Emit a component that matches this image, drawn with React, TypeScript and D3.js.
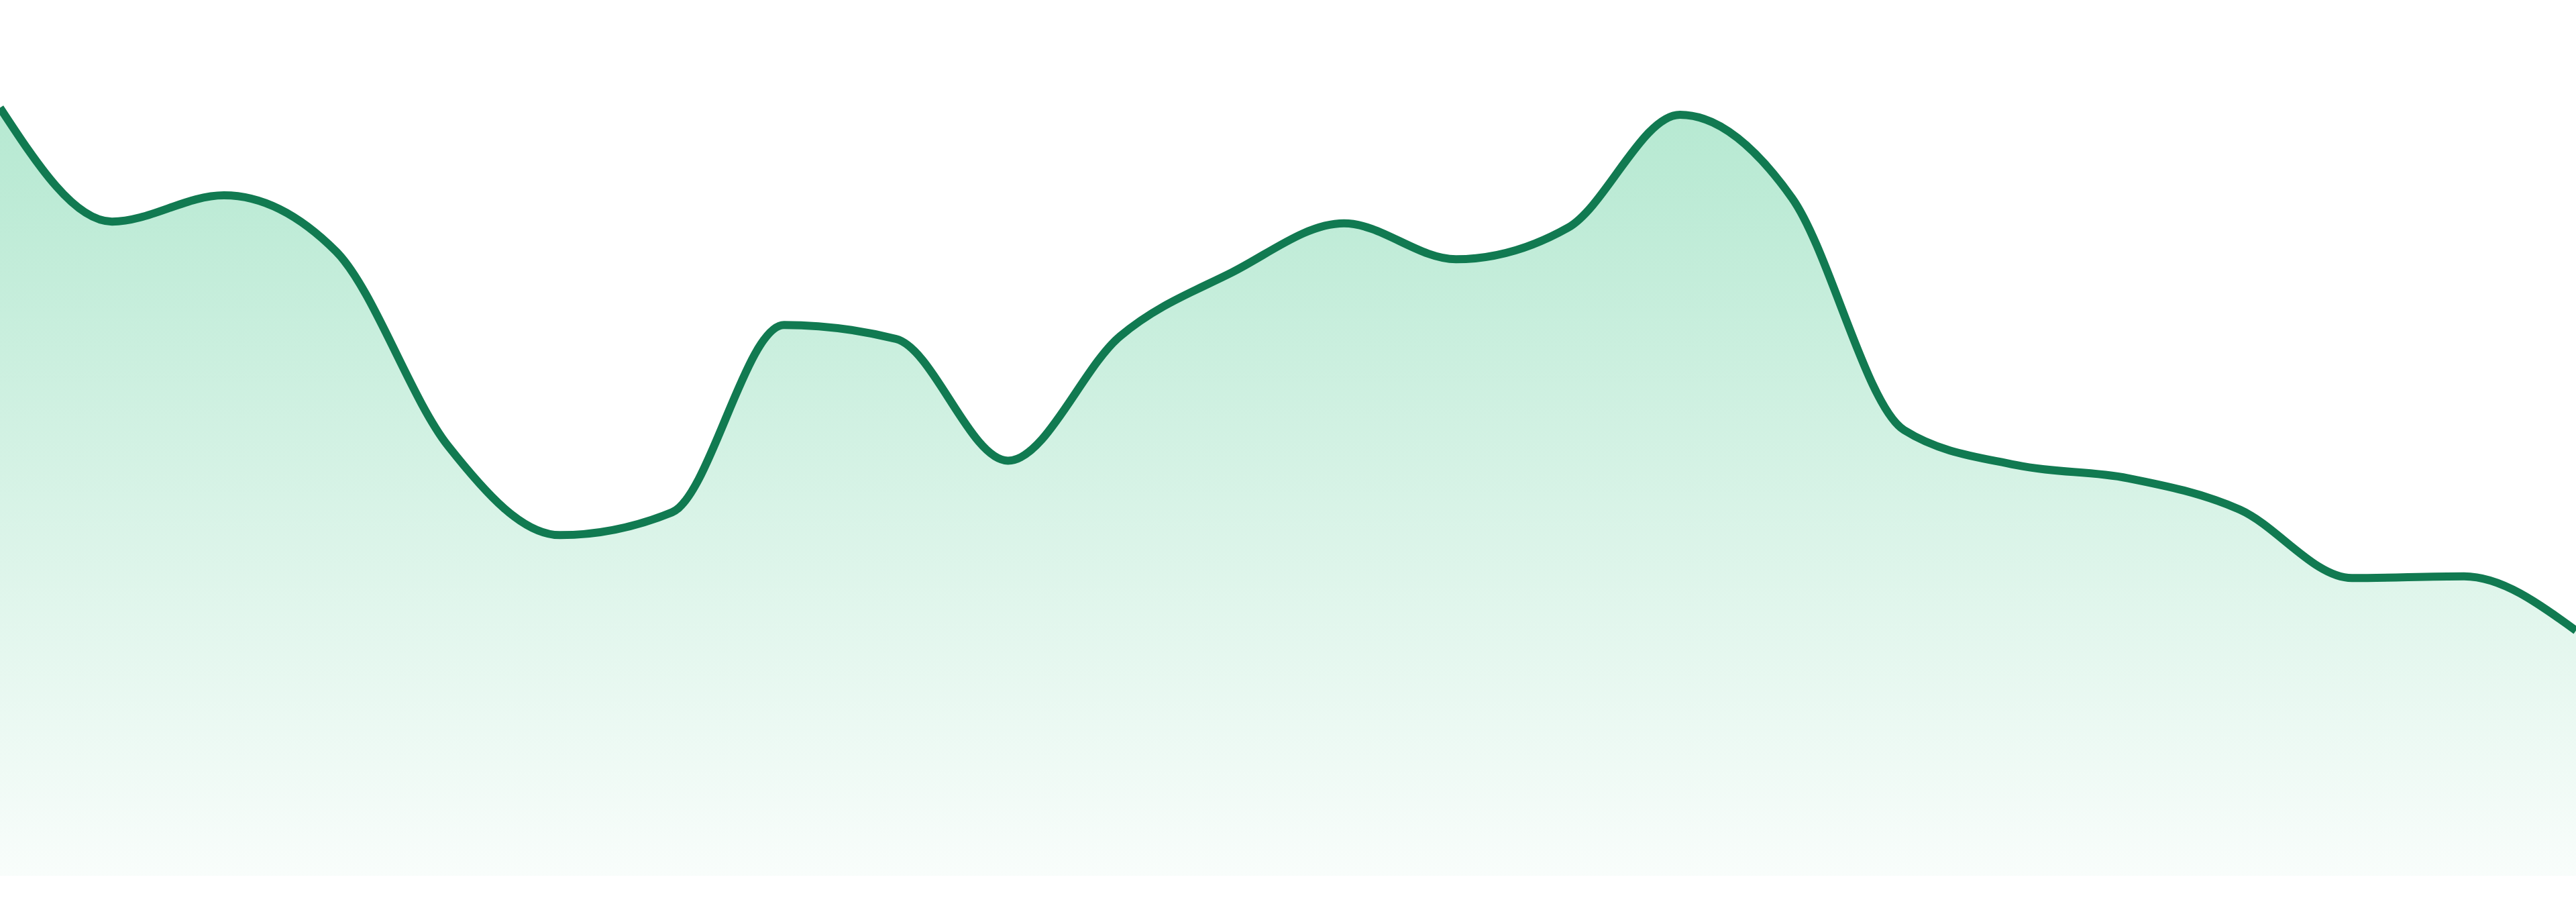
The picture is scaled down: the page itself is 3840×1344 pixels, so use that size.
import React, { useEffect, useRef } from 'react';
import * as d3 from 'd3';

// 24 evenly spaced samples, no axes drawn in the original
const labels = [
  'D01', 'D02', 'D03', 'D04', 'D05', 'D06', 'D07', 'D08',
  'D09', 'D10', 'D11', 'D12', 'D13', 'D14', 'D15', 'D16',
  'D17', 'D18', 'D19', 'D20', 'D21', 'D22', 'D23', 'D24',
];

const values = [
  87.7, 74.7, 77.7, 71.3, 49.1, 38.9, 41.5, 62.9,
  61.3, 47.4, 61.6, 68.9, 74.5, 70.4, 74.0, 86.9,
  77.4, 50.9, 46.9, 45.4, 41.8, 34.0, 34.2, 28.0,
];

const yDomain = [0, 100];

const WIDTH = 3840;
const HEIGHT = 1344;
const BASELINE = 1305;

const LINE_COLOR = '#117a51';
const FILL_COLOR = '#23bc76';

const App: React.FC = () => {
  const svgRef = useRef<SVGSVGElement>(null);

  useEffect(() => {
    if (!svgRef.current) return;

    const svg = d3.select(svgRef.current);
    svg.selectAll('*').remove();

    const x = d3.scalePoint<string>().domain(labels).range([0, WIDTH]);
    const y = d3.scaleLinear().domain(yDomain).range([BASELINE, 0]);

    const data = labels.map((l, i) => ({ label: l, value: values[i] }));
    const top = y(d3.max(values) || 0);

    // vertical fade under the line
    const defs = svg.append('defs');
    const grad = defs
      .append('linearGradient')
      .attr('id', 'areaFade')
      .attr('gradientUnits', 'userSpaceOnUse')
      .attr('x1', 0)
      .attr('x2', 0)
      .attr('y1', top)
      .attr('y2', BASELINE);
    grad.append('stop').attr('offset', '0%').attr('stop-color', FILL_COLOR).attr('stop-opacity', 0.33);
    grad.append('stop').attr('offset', '12%').attr('stop-color', FILL_COLOR).attr('stop-opacity', 0.3);
    grad.append('stop').attr('offset', '100%').attr('stop-color', FILL_COLOR).attr('stop-opacity', 0.03);

    const area = d3
      .area<{ label: string; value: number }>()
      .x((d) => x(d.label) || 0)
      .y0(BASELINE)
      .y1((d) => y(d.value))
      .curve(d3.curveMonotoneX);

    const line = d3
      .line<{ label: string; value: number }>()
      .x((d) => x(d.label) || 0)
      .y((d) => y(d.value))
      .curve(d3.curveMonotoneX);

    svg.append('path').datum(data).attr('d', area).attr('fill', 'url(#areaFade)');

    svg
      .append('path')
      .datum(data)
      .attr('d', line)
      .attr('fill', 'none')
      .attr('stroke', LINE_COLOR)
      .attr('stroke-width', 12)
      .attr('stroke-linejoin', 'round');
  }, []);

  return (
    <div style={{ position: 'absolute', left: 0, top: 0, width: WIDTH, height: HEIGHT, background: '#fff' }}>
      <svg ref={svgRef} width={WIDTH} height={HEIGHT} style={{ display: 'block' }} />
    </div>
  );
};

export default App;
